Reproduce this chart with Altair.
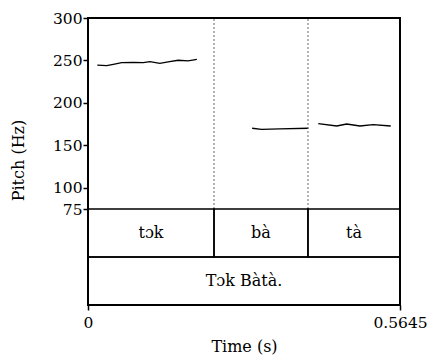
import altair as alt
import pandas as pd

# ---- data ----
seg1_time = [0.0168, 0.0338, 0.0458, 0.061, 0.082, 0.100, 0.112, 0.130, 0.145, 0.163, 0.181, 0.197]
seg1_hz = [244.6, 243.8, 245.5, 247.4, 247.8, 247.4, 248.6, 246.6, 248.2, 250.2, 249.4, 251.3]
seg2_time = [0.297, 0.314, 0.347, 0.3986]
seg2_hz = [170.1, 168.9, 169.3, 170.1]
seg3_time = [0.4167, 0.450, 0.468, 0.492, 0.516, 0.5477]
seg3_hz = [175.5, 172.8, 175.1, 172.8, 174.3, 172.8]

total_dur = 0.5645
pitch_min, pitch_max = 75, 300
pitch_ticks = [75, 100, 150, 200, 250, 300]

tier1_labels = ["tɔk", "bà", "tà"]
tier1_bounds = [0, 0.228, 0.398, 0.5645]
tier2_labels = ["Tɔk Bàtà."]
tier2_bounds = [0, 0.5645]

FONT = "DejaVu Serif"
FS = 16
LFS = 15.5

# ---- tables ----
rows = []
for sid, (ts, hs) in enumerate([(seg1_time, seg1_hz), (seg2_time, seg2_hz), (seg3_time, seg3_hz)]):
    for t, h in zip(ts, hs):
        rows.append({"seg": sid, "time": t, "hz": h})
pitch_df = pd.DataFrame(rows)

tier_rows = []
for row_idx, labels, bounds in [(1, tier1_labels, tier1_bounds), (0, tier2_labels, tier2_bounds)]:
    for i, lab in enumerate(labels):
        tier_rows.append({"label": lab, "start": bounds[i], "end": bounds[i + 1],
                          "row": row_idx, "row2": row_idx + 1})
tier_df = pd.DataFrame(tier_rows)
tier_df["mid"] = (tier_df["start"] + tier_df["end"]) / 2
tier_df["rowmid"] = tier_df["row"] + 0.5

bound_df = pd.DataFrame({"b": tier1_bounds[1:-1], "lo": pitch_min, "hi": pitch_max})

PH = 191   # pitch panel height (px)
TH = 96    # tiers height (px)
W = 312

xscale = alt.Scale(domain=[0, total_dur], nice=False, zero=False)
xaxis = alt.Axis(values=[0, total_dur], format=".4~f", labelFlush=False, labelOverlap=False,
                 domain=False, ticks=True, tickSize=5, tickColor="black", tickWidth=1.5,
                 labelFont=FONT, labelFontSize=LFS, labelColor="black", labelPadding=5,
                 grid=False, title="Time (s)", titleFont=FONT, titleFontSize=FS,
                 titleFontWeight="normal", titleColor="black", titleY=46.5,
                 titleBaseline="alphabetic")
pscale = alt.Scale(domain=[pitch_min, pitch_max], range=[PH, 0], nice=False, zero=False)
tscale = alt.Scale(domain=[0, 2], range=[PH + TH, PH], nice=False, zero=False)

pitch = alt.Chart(pitch_df).mark_line(color="black", strokeWidth=1.3).encode(
    x=alt.X("time:Q", scale=xscale, axis=xaxis),
    y=alt.Y("hz:Q", scale=pscale,
            axis=alt.Axis(values=pitch_ticks, domain=False, grid=False, tickSize=5,
                          tickColor="black", tickWidth=1.5, labelFont=FONT, labelFontSize=LFS,
                          labelColor="black", labelPadding=1, labelOverlap=False,
                          title="Pitch (Hz)", titleFont=FONT, titleFontSize=FS,
                          titleFontWeight="normal", titleColor="black", titleAngle=-90,
                          titleX=-65, titleY=142, titleBaseline="alphabetic",
                          titleAlign="center")),
    detail="seg:N",
)

rules = alt.Chart(bound_df).mark_rule(color="#666666", strokeWidth=1, strokeDash=[2, 2]).encode(
    x=alt.X("b:Q", scale=xscale, axis=xaxis),
    y=alt.Y("lo:Q", scale=pscale, axis=None),
    y2="hi:Q",
)

boxes = alt.Chart(tier_df).mark_rect(fillOpacity=0, stroke="black", strokeWidth=1.5).encode(
    x=alt.X("start:Q", scale=xscale, axis=xaxis),
    x2="end:Q",
    y=alt.Y("row:Q", scale=tscale, axis=None),
    y2="row2:Q",
)

texts = alt.Chart(tier_df).mark_text(font=FONT, fontSize=FS, color="black", baseline="middle",
                                     align="center").encode(
    x=alt.X("mid:Q", scale=xscale, axis=xaxis),
    y=alt.Y("rowmid:Q", scale=tscale, axis=None),
    text="label:N",
)

chart = alt.layer(pitch, rules, boxes, texts).resolve_scale(y="independent").properties(
    width=W, height=PH + TH,
    background="white",
    autosize=alt.AutoSizeParams(type="none"),
    padding={"left": 88, "top": 18, "right": 29, "bottom": 51},
).configure_view(stroke="black", strokeWidth=2)

chart.save("out.html", embed_options={"renderer": "svg", "actions": False})
